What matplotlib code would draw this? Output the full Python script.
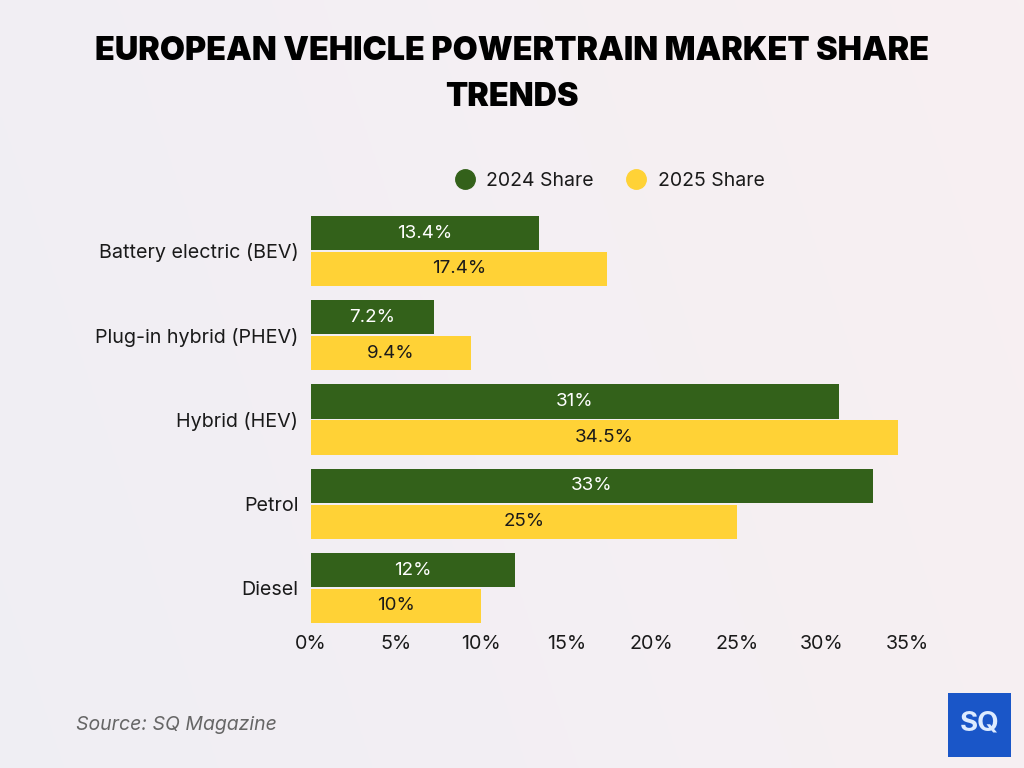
import matplotlib
matplotlib.use("Agg")
import matplotlib.pyplot as plt
from matplotlib.lines import Line2D
from matplotlib.patches import FancyBboxPatch
import numpy as np

# data
categories = ["Battery electric (BEV)", "Plug-in hybrid (PHEV)", "Hybrid (HEV)", "Petrol", "Diesel"]
share_2024 = [13.4, 7.2, 31, 33, 12]
share_2025 = [17.4, 9.4, 34.5, 25, 10]
labels_2024 = ["13.4%", "7.2%", "31%", "33%", "12%"]
labels_2025 = ["17.4%", "9.4%", "34.5%", "25%", "10%"]
xticks = [0, 5, 10, 15, 20, 25, 30, 35]

GREEN = "#33611A"
YELLOW = "#FFD236"
INK = "#1A1A1A"

plt.rcParams["font.family"] = ["Inter", "DejaVu Sans"]

fig = plt.figure(figsize=(10.24, 7.68), dpi=100)

# background gradient (lavender left -> pinkish right)
bg = fig.add_axes([0, 0, 1, 1], zorder=-10)
gx = np.linspace(0, 1, 256)
gy = np.linspace(0, 1, 256)
X, Y = np.meshgrid(gx, gy)
c_left = np.array([0.918, 0.918, 0.950])
c_right = np.array([0.972, 0.930, 0.945])
c_mid = np.array([0.972, 0.958, 0.962])
t = np.clip(X * 0.8 + (1 - Y) * 0.2, 0, 1)[..., None]
img = c_left * (1 - t) + c_right * t
img = img * 0.6 + c_mid * 0.4
bg.imshow(img, extent=[0, 1, 0, 1], aspect="auto", origin="upper")
bg.axis("off")

ax = fig.add_axes([311 / 1024, 1 - 627 / 768, 596 / 1024, 422 / 768])
ax.set_facecolor("none")

y = np.arange(len(categories))
h = 0.405
off = 0.213
b1 = ax.barh(y - off, share_2024, height=h, color=GREEN)
b2 = ax.barh(y + off, share_2025, height=h, color=YELLOW)

for bar, lab in zip(b1, labels_2024):
    ax.text(bar.get_width() / 2, bar.get_y() + bar.get_height() / 2, lab,
            ha="center", va="center", color="white", fontsize=13.5)
for bar, lab in zip(b2, labels_2025):
    ax.text(bar.get_width() / 2, bar.get_y() + bar.get_height() / 2, lab,
            ha="center", va="center", color=INK, fontsize=13.5)

ax.set_xlim(0, 35)
ax.set_ylim(4.463, -0.546)
ax.set_yticks(y, categories)
ax.set_xticks(xticks, [f"{v}%" for v in xticks])
ax.tick_params(axis="both", length=0, labelsize=14.2, colors=INK)
ax.tick_params(axis="y", pad=9)
ax.tick_params(axis="x", pad=6)
for s in ax.spines.values():
    s.set_visible(False)

# title
fig.text(0.5, 1 - 51 / 768, "EUROPEAN VEHICLE POWERTRAIN MARKET SHARE", ha="center", va="center",
         fontsize=23.3, fontweight="black", color="black")
fig.text(0.5, 1 - 98 / 768, "TRENDS", ha="center", va="center",
         fontsize=23.3, fontweight="black", color="black")

# legend
handles = [Line2D([], [], marker="o", ls="", ms=14, color=GREEN, label="2024 Share"),
           Line2D([], [], marker="o", ls="", ms=14, color=YELLOW, label="2025 Share")]
fig.legend(handles=handles, loc="center", bbox_to_anchor=(605 / 1024, 1 - 181 / 768),
           ncol=2, frameon=False, fontsize=14, handletextpad=0.1, columnspacing=1.2,
           labelcolor=INK)

# source
fig.text(76 / 1024, 1 - 725 / 768, "Source: SQ Magazine", ha="left", va="center",
         fontsize=14, style="italic", color="#666666")

# logo
logo = FancyBboxPatch((948 / 1024, 1 - 757 / 768), 63 / 1024, 64 / 768,
                      boxstyle="square,pad=0", transform=fig.transFigure,
                      facecolor="#1A56C8", edgecolor="none")
fig.patches.append(logo)
fig.text(979.5 / 1024, 1 - 724 / 768, "SQ", ha="center", va="center",
         fontsize=20, fontweight="bold", color="#DDEBFF")

fig.savefig("out.png", dpi=100)
